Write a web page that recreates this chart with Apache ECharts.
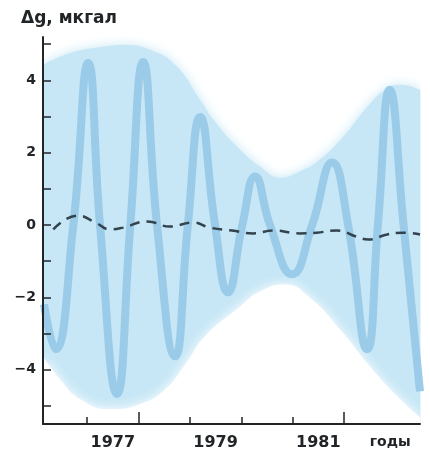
<!DOCTYPE html>
<html>
<head>
<meta charset="utf-8">
<script src="https://cdn.jsdelivr.net/npm/echarts@6/dist/echarts.min.js"></script>
<style>
  html, body { margin: 0; padding: 0; background: #fff; }
  #chart { width: 430px; height: 451px; }
</style>
</head>
<body>
<div id="chart"></div>
<script>
// envelope of the oscillation (upper / lower edge of the light band)
var upperYears = [1976.14, 1976.67, 1977.25, 1977.74, 1978.23, 1978.71, 1979.2, 1979.49, 1979.98, 1980.37, 1980.75, 1981.14, 1981.53, 1982.02, 1982.41, 1982.8, 1983.09, 1983.48];
var upperValues = [4.43, 4.76, 4.92, 4.98, 4.84, 4.43, 3.46, 2.85, 2.08, 1.61, 1.31, 1.48, 1.81, 2.5, 3.19, 3.74, 3.88, 3.74];
var lowerYears = [1976.14, 1976.47, 1976.86, 1977.45, 1978.03, 1978.52, 1978.91, 1979.3, 1979.98, 1980.37, 1980.85, 1981.33, 1981.92, 1982.5, 1983.09, 1983.48];
var lowerValues = [-3.63, -4.26, -4.81, -5.09, -4.95, -4.54, -3.85, -3.07, -2.25, -1.83, -1.64, -2.0, -2.88, -3.9, -4.81, -5.31];

// the oscillating curve
var waveYears = [1976.16, 1976.38, 1976.73, 1977.02, 1977.25, 1977.58, 1977.84, 1978.09, 1978.36, 1978.71, 1978.96, 1979.2, 1979.49, 1979.74, 1980.02, 1980.27, 1980.56, 1980.99, 1981.38, 1981.77, 1982.08, 1982.45, 1982.66, 1982.89, 1983.16, 1983.48];
var waveValues = [-2.19, -3.43, 0, 4.48, 0, -4.67, 0, 4.51, 0, -3.63, 0, 2.99, 0, -1.86, 0, 1.34, 0, -1.36, 0, 1.73, 0, -3.43, 0, 3.74, 0, -4.6];

// dashed residual line
var trendYears = [1976.34, 1976.82, 1977.16, 1977.45, 1977.7, 1978.17, 1978.61, 1979.06, 1979.39, 1979.82, 1980.23, 1980.62, 1981.14, 1981.47, 1981.86, 1982.25, 1982.47, 1982.84, 1983.15, 1983.48];
var trendValues = [-0.12, 0.26, 0.07, -0.12, -0.07, 0.1, -0.04, 0.07, -0.07, -0.15, -0.23, -0.15, -0.23, -0.21, -0.15, -0.32, -0.4, -0.26, -0.21, -0.26];

var yTicks = [-5, -4, -3, -2, -1, 0, 1, 2, 3, 4, 5];
var yLabels = [-4, -2, 0, 2, 4];
var yearTicks = [1977, 1979, 1980, 1981];
var yearTicksLong = [1978, 1982];
var yearLabels = [1977, 1979, 1981];
var unitLabel = 'годы';

var ink = '#222527';
var font = 'DejaVu Sans';
var bandColor = '#c7e7f6';

function pairs(xs, ys) {
  var out = [];
  for (var i = 0; i < xs.length; i++) {
    out.push([xs[i], ys[i]]);
  }
  return out;
}

var labelPos = yearLabels.map(function (y) { return y + 0.5; });
labelPos.push(1982.9);

var chart = echarts.init(document.getElementById('chart'), null, { renderer: 'canvas' });

var option = {
  animation: false,
  backgroundColor: '#fff',
  title: {
    text: 'Δg, мкгал',
    left: 16,
    top: 5,
    textStyle: { fontFamily: font, fontWeight: 'bold', fontSize: 17, color: ink }
  },
  grid: { left: 43, right: 10, top: 37, bottom: 26 },
  xAxis: [{
    type: 'value',
    min: 1976.14,
    max: 1983.48,
    z: 10,
    splitLine: { show: false },
    axisLine: { onZero: false, lineStyle: { color: ink, width: 2 } },
    axisTick: { inside: true, length: 7, customValues: yearTicks, lineStyle: { color: ink, width: 1.5 } },
    axisLabel: {
      customValues: labelPos,
      margin: 11,
      fontFamily: font,
      fontWeight: 'bold',
      fontSize: 16,
      color: ink,
      formatter: function (v) {
        if (v > 1982.5) return '{u|' + unitLabel + '}';
        return String(Math.floor(v));
      },
      rich: { u: { fontFamily: font, fontWeight: 'bold', fontSize: 14, color: ink } }
    }
  }, {
    type: 'value',
    min: 1976.14,
    max: 1983.48,
    position: 'bottom',
    z: 10,
    splitLine: { show: false },
    axisLine: { show: false, onZero: false },
    axisLabel: { show: false },
    axisTick: { inside: true, length: 12, customValues: yearTicksLong, lineStyle: { color: ink, width: 1.5 } }
  }],
  yAxis: {
    type: 'value',
    min: -5.5,
    max: 5.2,
    z: 10,
    splitLine: { show: false },
    axisLine: { onZero: false, lineStyle: { color: ink, width: 2 } },
    axisTick: { inside: true, length: 8, customValues: yTicks, lineStyle: { color: ink, width: 1.5 } },
    axisLabel: {
      customValues: yLabels,
      margin: 7,
      fontFamily: font,
      fontWeight: 'bold',
      fontSize: 14,
      color: ink,
      formatter: function (v) {
        return v < 0 ? '\u2212' + Math.abs(v) : String(v);
      }
    }
  },
  series: [{
    // upper edge: filled down to the bottom of the plot
    name: 'upper',
    type: 'line',
    data: pairs(upperYears, upperValues),
    smooth: 0.5,
    symbol: 'none',
    lineStyle: { opacity: 0 },
    areaStyle: { color: bandColor, opacity: 1, origin: 'start', shadowBlur: 12, shadowColor: bandColor },
    z: 1
  }, {
    // lower edge: white fill below cuts the band out
    name: 'lower',
    type: 'line',
    data: pairs(lowerYears, lowerValues),
    smooth: 0.5,
    symbol: 'none',
    lineStyle: { opacity: 0 },
    areaStyle: { color: '#fff', opacity: 1, origin: 'start', shadowBlur: 12, shadowColor: '#fff' },
    z: 1.5
  }, {
    name: 'wave',
    type: 'line',
    data: pairs(waveYears, waveValues),
    smooth: 0.5,
    symbol: 'none',
    lineStyle: { color: '#98c9e8', width: 8, opacity: 0.95 },
    z: 2
  }, {
    name: 'trend',
    type: 'line',
    data: pairs(trendYears, trendValues),
    smooth: 0.5,
    symbol: 'none',
    lineStyle: { color: '#33434e', width: 2.5, type: [10, 7] },
    z: 3
  }]
};

chart.setOption(option);
</script>
</body>
</html>
